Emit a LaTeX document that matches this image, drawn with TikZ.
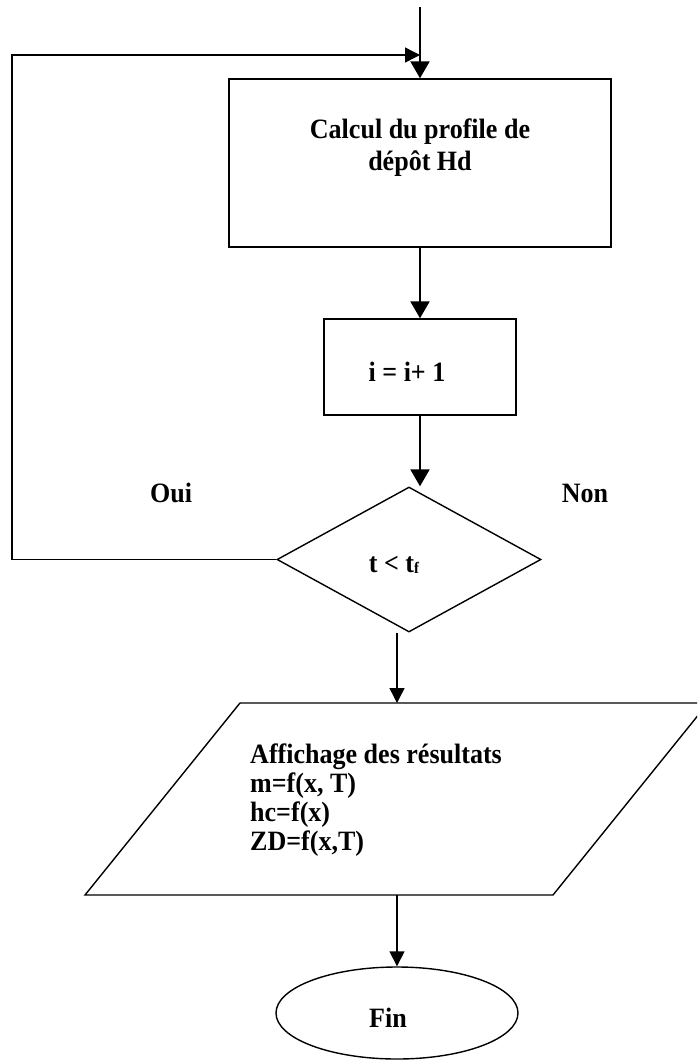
\documentclass[tikz,border=0pt]{standalone}
\usepackage{fontspec}
\setmainfont{Liberation Serif}[FakeStretch=0.93]
\usetikzlibrary{arrows.meta,shapes.geometric}
\begin{document}
\begin{tikzpicture}[x=1pt,y=-1pt,
  shapebox/.style={draw,line width=1.4pt,inner sep=0pt},
  lbl/.style={font=\fontsize{28}{32}\selectfont\bfseries, inner sep=0pt},
  bigarrow/.style={line width=2.2pt,-{Triangle[length=17pt,width=19pt]}},
  smallarrow/.style={line width=1.4pt,-{Triangle[length=15pt,width=15pt]}},
]
\useasboundingbox (0,0) rectangle (697,1061);
\clip (0,0) rectangle (697,1061);
\fill[white] (0,0) rectangle (697,1061);
% shapes
\coordinate (start) at (420,7);
\coordinate (loopcorner) at (12,55);
\node[shapebox, minimum width=382pt, minimum height=168pt] (calc) at (420,163) {};
\node[shapebox, minimum width=192pt, minimum height=96pt] (inc) at (420,367) {};
\node[shapebox, diamond, minimum width=264pt, minimum height=145pt] (dia) at (409,559.5) {};
\coordinate (ptl) at (240,703);
\coordinate (ptr) at (708,703);
\coordinate (pbr) at (553,895);
\coordinate (pbl) at (85,895);
\draw[line width=1.4pt] (ptl) -- (ptr) -- (pbr) -- (pbl) -- cycle;
\node[shapebox, ellipse, minimum width=242pt, minimum height=92pt] (fin) at (397,1013) {};
% texts
\node[lbl, align=center, anchor=north] (calctxt) at (420,119) {Calcul du profile de\\dépôt Hd};
\node[lbl] (inctxt) at (407,372) {i = i+ 1};
\node[lbl] (diatxt) at (394,565) {t < t\raisebox{-1pt}{\fontsize{16}{16}\selectfont f}};
\node[lbl] (oui) at (171,493) {Oui};
\node[lbl] (non) at (585,493) {Non};
\node[lbl, align=left, anchor=north west, font=\fontsize{28}{29}\selectfont\bfseries] (partxt) at (250,744) {Affichage des résultats\\m=f(x, T)\\hc=f(x)\\ZD=f(x,T)};
\node[lbl] (fintxt) at (388,1018) {Fin};
% connectors
\draw[bigarrow] (start) -- (start |- calc.north);
\draw[bigarrow] (calc.south) -- (inc.north);
\draw[bigarrow] (inc.south) -- (inc.south |- dia.north);
\draw[smallarrow] (dia.west) -| (loopcorner) -- (loopcorner -| start);
\draw[smallarrow] (dia.south -| fin.north) -- (fin.north |- ptl);
\draw[smallarrow] (fin.north |- pbl) -- (fin.north);
\end{tikzpicture}
\end{document}
